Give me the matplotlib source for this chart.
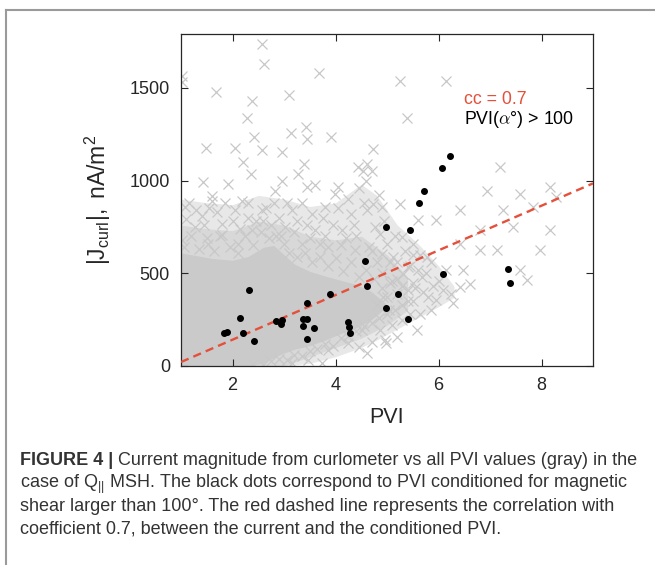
import numpy as np
import matplotlib.pyplot as plt
from matplotlib import font_manager

# all PVI values vs |J_curl| (gray crosses), the scattered part of the cloud
gray_pts = [
    # high outliers
    (2.57, 1735), (2.61, 1627), (1.01, 1565), (1.01, 1529), (3.68, 1582), (1.68, 1475),
    (2.38, 1430), (3.10, 1462), (2.28, 1337), (2.42, 1233), (3.13, 1256), (3.43, 1287),
    (3.45, 1224), (3.91, 1233), (1.48, 1176), (2.05, 1176), (2.57, 1167), (2.97, 1152),
    (2.21, 1098), (2.36, 1036), (3.39, 1090), (3.28, 1036), (1.43, 991), (2.96, 1000),
    (3.60, 978), (4.05, 964), (4.44, 1072), (1.60, 919), (2.83, 946), (3.99, 928),
    (5.25, 1538), (6.15, 1538), (5.38, 1337), (4.73, 1170), (4.61, 1090), (7.19, 1072),
    (6.94, 946), (7.58, 928), (8.17, 964), (1.92, 982), (3.44, 964), (4.53, 1054),
    # band 600-900 above the core
    (1.08, 857), (1.60, 892), (2.18, 892), (2.57, 839), (3.15, 839), (3.80, 857),
    (4.31, 821), (4.90, 857), (1.27, 749), (1.79, 767), (2.37, 731), (3.02, 749),
    (3.60, 731), (4.12, 731), (4.77, 749), (5.29, 695), (1.01, 677), (1.53, 660),
    (2.11, 660), (3.34, 660), (3.86, 642), (4.38, 624), (4.90, 606), (5.41, 534),
    (5.67, 480), (5.80, 373), (5.41, 409), (5.03, 301),
    (1.10, 790), (1.40, 810), (1.70, 830), (2.00, 780), (2.30, 800), (2.60, 780),
    (2.90, 800), (3.20, 720), (3.50, 690), (3.80, 700), (4.10, 650), (4.40, 700),
    (4.70, 620), (5.00, 660), (5.20, 560), (5.50, 600),
    (1.15, 880), (1.30, 840), (1.45, 760), (1.55, 850), (1.75, 700), (1.85, 880),
    (2.05, 840), (2.15, 740), (2.30, 880), (2.45, 780), (2.65, 850), (2.75, 760),
    (2.80, 880), (2.95, 700), (3.05, 880), (3.25, 780), (3.35, 880), (3.45, 760),
    (3.55, 820), (3.70, 660), (3.75, 800), (3.95, 760), (4.05, 850), (4.20, 690),
    (4.25, 900), (4.35, 760), (4.45, 960), (4.55, 880), (4.60, 1000), (4.65, 640),
    (4.70, 1050), (4.80, 560), (4.85, 920), (4.95, 780), (5.05, 560), (5.15, 700),
    (5.35, 620), (5.45, 540), (5.55, 420), (5.65, 600), (5.75, 500), (5.85, 560),
    (6.00, 460), (6.15, 520), (6.25, 390), (5.85, 300), (5.65, 280),
    # fringe just above the core
    (1.05, 640), (1.20, 700), (1.35, 630), (1.50, 690), (1.65, 620), (1.80, 705),
    (1.95, 640), (2.10, 610), (2.25, 700), (2.40, 650), (2.55, 720), (2.70, 690),
    (2.85, 700), (3.00, 660), (3.10, 610), (3.25, 590), (3.40, 610), (3.55, 560),
    (3.70, 590), (3.85, 540), (4.00, 580), (4.15, 510), (4.30, 560), (4.45, 480),
    (4.60, 520), (4.75, 470), (4.90, 500), (5.05, 450), (5.20, 470),
    # fringe below the core
    (2.40, 10), (2.60, 5), (2.75, 25), (2.90, 40), (3.05, 30), (3.20, 60), (3.35, 55),
    (3.50, 80), (3.65, 90), (3.80, 120), (3.95, 110), (4.10, 150), (4.25, 160),
    (4.40, 190), (4.55, 215), (4.70, 230), (4.85, 260), (5.00, 280), (5.15, 300),
    (5.30, 330), (5.50, 350), (5.70, 400), (5.90, 430),
    (4.51, 194), (4.25, 122), (4.96, 140), (3.86, 86), (3.47, 32), (3.15, 14),
    (3.73, 14), (4.99, 122), (4.61, 68), (4.45, 100), (4.70, 130), (5.10, 220),
    (5.30, 250),
    # tail of the cloud, PVI 4.7-5.6
    (4.80, 330), (4.90, 420), (5.00, 370), (5.10, 460), (5.20, 390), (5.30, 430),
    (5.40, 350), (5.50, 450), (5.60, 520),
    # sparse points at large PVI
    (4.73, 875), (6.42, 839), (5.96, 785), (6.42, 660), (6.81, 624), (7.13, 624),
    (7.26, 839), (7.45, 749), (7.97, 624), (8.17, 731), (6.81, 731), (7.84, 857),
    (8.29, 910), (7.71, 462), (7.58, 516), (6.48, 516), (6.42, 426), (6.09, 409),
    (6.61, 444), (5.60, 785), (5.51, 660), (5.77, 588), (5.96, 355), (6.29, 337),
    (5.45, 283), (5.58, 194), (5.19, 158), (4.86, 194), (4.93, 373), (5.32, 498),
    (5.12, 588), (4.86, 713), (5.25, 875), (4.61, 839),
]

# saturated part of the gray cloud (thousands of overlapping crosses), as envelopes:
# outer = loosely hatched, inner = densely hatched, core = solid
outer_pvi = [1.0, 1.5, 2.0, 2.5, 3.0, 3.5, 4.0, 4.5, 4.8, 5.2, 5.6, 6.0, 6.3]
outer_top = [900, 880, 870, 920, 900, 860, 880, 980, 920, 760, 660, 540, 430]
outer_bot = [0, 0, 0, 0, 0, 15, 50, 100, 140, 200, 260, 320, 370]

inner_pvi = [1.0, 1.5, 2.0, 2.5, 3.0, 3.5, 4.0, 4.5, 5.0, 5.4]
inner_top = [760, 740, 730, 780, 760, 700, 680, 700, 600, 480]
inner_bot = [0, 0, 0, 0, 0, 50, 100, 150, 220, 300]

core_pvi = [1.0, 1.3, 1.6, 2.0, 2.3, 2.6, 2.8, 3.0, 3.2, 3.5, 3.8, 4.1, 4.4, 4.7, 5.0]
core_top = [610, 595, 580, 570, 590, 640, 650, 600, 550, 510, 485, 462, 440, 400, 330]
core_bot = [0, 0, 0, 0, 0, 15, 45, 70, 90, 110, 140, 175, 205, 250, 320]

# PVI conditioned for magnetic shear > 100 deg (black dots)
cond_pvi = [1.84, 1.89, 2.15, 2.21, 2.32, 2.42, 2.84, 2.97, 2.94, 3.36, 3.45, 3.36,
            3.45, 3.58, 3.44, 3.89, 4.24, 4.26, 4.29, 4.57, 4.62, 4.98, 4.98, 5.22,
            5.40, 5.44, 5.62, 5.72, 6.07, 6.22, 6.09, 7.34, 7.38]
cond_j = [176, 181, 260, 176, 409, 133, 245, 247, 229, 256, 256, 213,
          342, 206, 143, 389, 238, 208, 177, 565, 432, 749, 312, 390,
          254, 735, 880, 946, 1070, 1133, 495, 523, 448]

# linear fit through the conditioned points
fit_slope = 120.4
fit_icpt = -99.0
cc = 0.7

xticks = [2, 4, 6, 8]
yticks = [0, 500, 1000, 1500]

names = {f.name for f in font_manager.fontManager.ttflist}
cap_font = 'Liberation Sans Narrow' if 'Liberation Sans Narrow' in names else 'Liberation Sans'

plt.rcParams['font.family'] = ['Liberation Sans', 'DejaVu Sans']
plt.rcParams['mathtext.fontset'] = 'custom'
plt.rcParams['mathtext.rm'] = 'Liberation Sans'
plt.rcParams['mathtext.it'] = 'Liberation Sans:italic'

axcol = '#262626'
gray = '#c8c8c8'
red = '#e4503a'

fig = plt.figure(figsize=(6.55, 5.65), dpi=100)
ax = fig.add_axes([181/655, 1-366/565, 412/655, 332/565])

ax.fill_between(outer_pvi, outer_bot, outer_top, color='#e8e8e8', lw=0, zorder=1)
ax.fill_between(inner_pvi, inner_bot, inner_top, color='#d8d8d8', lw=0, zorder=1)
ax.fill_between(core_pvi, core_bot, core_top, color='#cacaca', lw=0, zorder=1)
gx, gy = zip(*gray_pts)
ax.plot(gx, gy, 'x', color=gray, ms=7.8, mew=0.9, zorder=2)

ax.plot(cond_pvi, cond_j, 'o', color='black', ms=4, zorder=4)

xf = np.array([1, 9])
ax.plot(xf, fit_slope*xf + fit_icpt, color=red, lw=1.7, ls=(0, (3.5, 2.2)), zorder=3)

ax.text(6.5, 1437, f'cc = {cc}', color=red, fontsize=12.8, va='center', zorder=5)
ax.text(6.5, 1328, r'PVI($\alpha$°) > 100', color='black', fontsize=12.8, va='center',
        math_fontfamily='cm', zorder=5)

ax.set_xlim(1, 9)
ax.set_ylim(0, 1790)
ax.set_xticks(xticks)
ax.set_yticks(yticks)
ax.tick_params(direction='in', top=True, right=True, length=5, width=0.8,
               labelsize=13, pad=8, colors=axcol)
for s in ax.spines.values():
    s.set_color(axcol)
    s.set_linewidth(0.9)
ax.set_xlabel('PVI', fontsize=15.5, color=axcol, labelpad=9)
ax.set_ylabel(r'$\mathregular{|J_{curl}|,\ nA/m^2}$', fontsize=16.5, color=axcol, labelpad=12)

# frame around the figure block
fig.add_artist(plt.Line2D([6/655, 6/655], [0, 1-10/565], color='#9a9a9a', lw=1.5))
fig.add_artist(plt.Line2D([6/655, 1], [1-10/565, 1-10/565], color='#9a9a9a', lw=1.5))

# caption
capcol = '#333333'
capsize = 13
lines = [
    ' Current magnitude from curlometer vs all PVI values (gray) in the',
    r'case of $\mathregular{Q_{||}}$ MSH. The black dots correspond to PVI conditioned for magnetic',
    'shear larger than 100°. The red dashed line represents the correlation with',
    'coefficient 0.7, between the current and the conditioned PVI.',
]
baselines = [465, 488, 511, 534]
head = fig.text(20/655, 1-baselines[0]/565, 'FIGURE 4 |', fontsize=capsize, fontweight='bold',
                family=cap_font, color=capcol, va='baseline')
plt.annotate(lines[0], xy=(1, 0), xycoords=head, fontsize=capsize, family=cap_font,
             color=capcol, va='bottom', ha='left', annotation_clip=False)
for t, y in zip(lines[1:], baselines[1:]):
    fig.text(20/655, 1-y/565, t, fontsize=capsize, family=cap_font, color=capcol, va='baseline')

fig.savefig('out.png', dpi=100)
